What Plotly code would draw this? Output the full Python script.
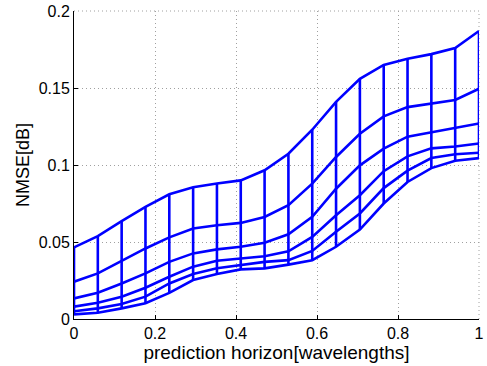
import plotly.graph_objects as go

x_vals = [i / 17 for i in range(18)]

s1 = [0.003, 0.0041, 0.0069, 0.0102, 0.017, 0.0253, 0.0292, 0.0322, 0.0329, 0.0353,
      0.0382, 0.0469, 0.0581, 0.075, 0.089, 0.098, 0.1028, 0.1045]
s2 = [0.005, 0.0069, 0.0097, 0.0145, 0.0231, 0.0292, 0.0329, 0.035, 0.0371, 0.0382,
      0.0442, 0.0566, 0.0685, 0.085, 0.0963, 0.1045, 0.107, 0.108]
s3 = [0.008, 0.0106, 0.0145, 0.0203, 0.0274, 0.034, 0.0378, 0.0393, 0.0408, 0.044,
      0.0533, 0.0674, 0.0804, 0.096, 0.1056, 0.1108, 0.112, 0.114]
s4 = [0.0134, 0.017, 0.0231, 0.0296, 0.0371, 0.0426, 0.0452, 0.0469, 0.0495, 0.055,
      0.0663, 0.0846, 0.0998, 0.1106, 0.1184, 0.1212, 0.124, 0.127]
s5 = [0.0242, 0.0296, 0.0378, 0.0458, 0.053, 0.0588, 0.0609, 0.0624, 0.0663, 0.0739,
      0.0879, 0.1052, 0.1203, 0.1316, 0.1376, 0.1398, 0.1422, 0.1495]
s6 = [0.0465, 0.0538, 0.0635, 0.0728, 0.081, 0.0855, 0.088, 0.090, 0.0966, 0.1073,
      0.1229, 0.141, 0.156, 0.165, 0.169, 0.172, 0.176, 0.187]

series = [s1, s2, s3, s4, s5, s6]
x_ticks = [0, 0.2, 0.4, 0.6, 0.8, 1]
x_tick_text = ["0", "0.2", "0.4", "0.6", "0.8", "1"]
y_ticks = [0, 0.05, 0.1, 0.15, 0.2]
y_tick_text = ["0", "0.05", "0.1", "0.15", "0.2"]

BLUE = "#0000FF"
LW = 2.6
GRID = "#a0a0a0"

fig = go.Figure()
for s in series:
    fig.add_trace(go.Scatter(x=x_vals, y=s, mode="lines",
                             line=dict(color=BLUE, width=LW), showlegend=False,
                             hoverinfo="skip"))

# vertical connectors at each x position
vx, vy = [], []
for i, xv in enumerate(x_vals):
    vx += [xv, xv, None]
    vy += [min(s[i] for s in series), max(s[i] for s in series), None]
fig.add_trace(go.Scatter(x=vx, y=vy, mode="lines",
                         line=dict(color=BLUE, width=LW), showlegend=False,
                         hoverinfo="skip"))

# dotted grid at the top and right limits (no box, like the reference)
fig.add_shape(type="line", xref="paper", yref="paper", x0=0, x1=1, y0=1, y1=1,
              line=dict(color=GRID, width=1, dash="1px,3px"), layer="below")
fig.add_shape(type="line", xref="paper", yref="paper", x0=1, x1=1, y0=0, y1=1,
              line=dict(color=GRID, width=1, dash="1px,3px"), layer="below")

font = dict(family="Liberation Sans, Arial, sans-serif", size=16, color="black")

fig.update_layout(
    width=487, height=366,
    margin=dict(l=74, r=3, t=10, b=47),
    paper_bgcolor="white", plot_bgcolor="white",
    font=font,
    xaxis=dict(range=[0, 1], tickvals=x_ticks, ticktext=x_tick_text,
               showgrid=True, gridcolor=GRID, griddash="1px,3px", gridwidth=1,
               zeroline=False, showline=True, linecolor="black", linewidth=1,
               ticks="inside", ticklen=4, tickcolor="black",
               ticklabeloverflow="allow",
               title=dict(text="prediction horizon[wavelengths]", standoff=0,
                          font=dict(size=19)),
               tickfont=dict(size=16)),
    yaxis=dict(range=[0, 0.2], tickvals=y_ticks, ticktext=y_tick_text,
               showgrid=True, gridcolor=GRID, griddash="1px,3px", gridwidth=1,
               zeroline=False, showline=True, linecolor="black", linewidth=1,
               ticks="inside", ticklen=4, tickcolor="black",
               ticklabeloverflow="allow",
               title=dict(text="NMSE[dB]", standoff=4, font=dict(size=18)),
               tickfont=dict(size=16)),
)

fig.write_html("out.html")
